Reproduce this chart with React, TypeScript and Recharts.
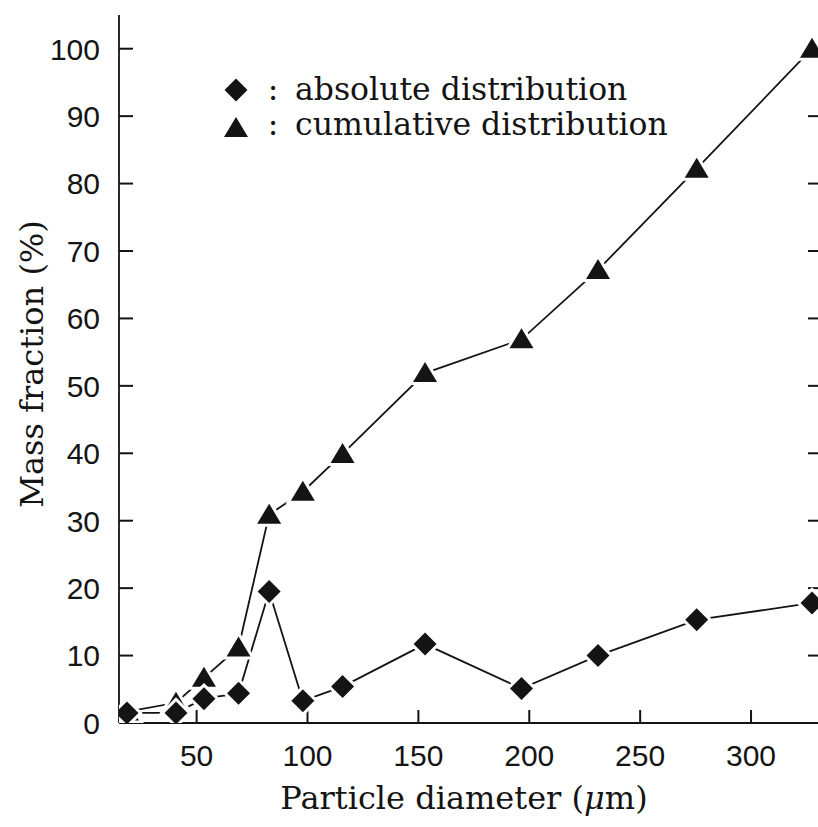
import { LineChart, Line, XAxis, YAxis, Legend, Customized, ReferenceLine } from "recharts";

// particle diameter (µm) and mass fractions (%)
const diameters = [18.6, 40.7, 53.3, 68.9, 82.7, 97.9, 115.8, 153, 196.5, 231, 275.5, 327.5];
const absoluteFraction = [1.5, 1.5, 3.6, 4.4, 19.5, 3.3, 5.4, 11.7, 5.1, 10.0, 15.3, 17.8];
const cumulativeFraction = [1.7, 3.0, 6.7, 11.2, 30.9, 34.3, 39.9, 51.9, 56.9, 67.2, 82.2, 100];
const xTicks = [50, 100, 150, 200, 250, 300];
const yTicks = [0, 10, 20, 30, 40, 50, 60, 70, 80, 90, 100];

const data = diameters.map((d, i) => ({
  d,
  abs: absoluteFraction[i],
  cum: cumulativeFraction[i],
}));

const INK = "#141414";
const SERIF = "'DejaVu Serif', serif";
const SANS = "'Liberation Sans', sans-serif";

function Diamond({ cx, cy }: any) {
  const r = 11.5;
  return (
    <polygon
      points={`${cx},${cy - r} ${cx + r},${cy} ${cx},${cy + r} ${cx - r},${cy}`}
      fill={INK}
      stroke="#fff"
      strokeWidth={6}
      style={{ paintOrder: "stroke" }}
    />
  );
}

function Triangle({ cx, cy }: any) {
  return (
    <polygon
      points={`${cx},${cy - 11} ${cx + 12},${cy + 9} ${cx - 12},${cy + 9}`}
      fill={INK}
      stroke="#fff"
      strokeWidth={6}
      style={{ paintOrder: "stroke" }}
    />
  );
}

function LeftLabel({ x, y, payload }: any) {
  return (
    <text x={x} y={y} dy="0.36em" textAnchor="end" fontFamily={SANS} fontSize={30} fill={INK}>
      {payload.value}
    </text>
  );
}

function BottomLabel({ x, y, payload }: any) {
  return (
    <text x={x} y={y} dy="0.36em" textAnchor="middle" fontFamily={SANS} fontSize={30} fill={INK}>
      {payload.value}
    </text>
  );
}

// short inward ticks on the left and right frame edges
const yTickMarks = (p: any) => {
  const l = Math.min(Number(p.x1), Number(p.x2));
  const r = Math.max(Number(p.x1), Number(p.x2));
  const y = Number(p.y1);
  return (
    <g stroke={INK} strokeWidth={2}>
      <path d={`M${l},${y}H${l + 14}`} />
      <path d={`M${r - 14},${y}H${r}`} />
    </g>
  );
};

const xTickMarks = (p: any) => {
  const b = Math.max(Number(p.y1), Number(p.y2));
  const x = Number(p.x1);
  return <path d={`M${x},${b}V${b - 13}`} stroke={INK} strokeWidth={2} />;
};

function Titles() {
  return (
    <g fontFamily={SERIF} fontSize={32} fill={INK}>
      <text x={464} y={809} textAnchor="middle">
        Particle diameter (<tspan fontStyle="italic">μ</tspan>m)
      </text>
      <text x={43} y={364} textAnchor="middle" transform="rotate(-90, 43, 364)">
        Mass fraction (%)
      </text>
    </g>
  );
}

function LegendBox() {
  return (
    <svg width={480} height={80} style={{ display: "block" }}>
      <Diamond cx={16} cy={20} />
      <Triangle cx={16} cy={58} />
      <g fontFamily={SERIF} fontSize={31.5} fill={INK}>
        <text x={53} y={30} textAnchor="middle">:</text>
        <text x={75} y={30}>absolute distribution</text>
        <text x={53} y={65} textAnchor="middle">:</text>
        <text x={75} y={65}>cumulative distribution</text>
      </g>
    </svg>
  );
}

const axisLine = { stroke: INK, strokeWidth: 1.8 };

export default function App() {
  return (
    <div style={{ position: "absolute", left: 0, top: 0, width: 818, height: 827, overflow: "hidden", background: "#fff" }}>
      <LineChart width={830} height={827} data={data} margin={{ top: 15, right: 8, bottom: 0, left: 0 }}>
        <XAxis
          xAxisId="bottom"
          dataKey="d"
          type="number"
          domain={[15, 332]}
          allowDataOverflow
          ticks={xTicks}
          interval={0}
          height={104}
          tickSize={0}
          tickMargin={32}
          tick={<BottomLabel />}
          tickLine={false}
          axisLine={axisLine}
        />
        <XAxis
          xAxisId="top"
          orientation="top"
          type="number"
          domain={[15, 332]}
          allowDataOverflow
          height={0}
          tick={false}
          tickLine={false}
          axisLine={axisLine}
        />
        <YAxis
          yAxisId="left"
          type="number"
          domain={[0, 105]}
          allowDataOverflow
          ticks={yTicks}
          interval={0}
          width={119}
          tickSize={0}
          tickMargin={19}
          tick={<LeftLabel />}
          tickLine={false}
          axisLine={axisLine}
        />
        <YAxis
          yAxisId="right"
          orientation="right"
          type="number"
          domain={[0, 105]}
          allowDataOverflow
          width={0}
          tick={false}
          tickLine={false}
          axisLine={axisLine}
        />
        {yTicks.map((t) => (
          <ReferenceLine key={`y${t}`} xAxisId="bottom" yAxisId="left" y={t} shape={yTickMarks} />
        ))}
        {xTicks.map((t) => (
          <ReferenceLine key={`x${t}`} xAxisId="bottom" yAxisId="left" x={t} shape={xTickMarks} />
        ))}
        <Legend
          layout="horizontal"
          verticalAlign="middle"
          align="center"
          wrapperStyle={{ left: 220, top: 70, width: 480, height: 80 }}
          content={<LegendBox />}
        />
        <Line
          xAxisId="bottom"
          yAxisId="left"
          dataKey="cum"
          type="linear"
          stroke={INK}
          strokeWidth={1.8}
          dot={<Triangle />}
          activeDot={false}
          isAnimationActive={false}
        />
        <Line
          xAxisId="bottom"
          yAxisId="left"
          dataKey="abs"
          type="linear"
          stroke={INK}
          strokeWidth={1.8}
          dot={<Diamond />}
          activeDot={false}
          isAnimationActive={false}
        />
        <Customized component={<Titles />} />
      </LineChart>
    </div>
  );
}
